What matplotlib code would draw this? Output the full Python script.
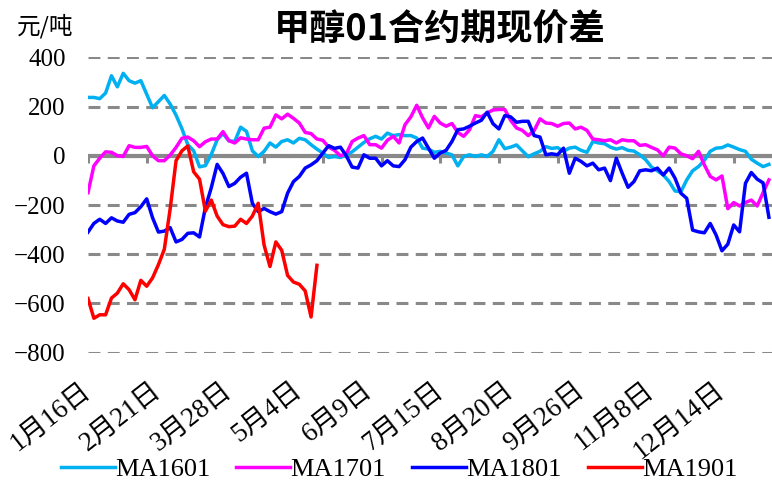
import matplotlib.pyplot as plt

# category labels (every 12th point) and the four spread series
dates = ['1月16日', '2月21日', '3月28日', '5月4日', '6月9日',
         '7月15日', '8月20日', '9月26日', '11月8日', '12月14日']
label_step = 12
tick_step = 10

ma1601 = [237, 237, 232, 255, 325, 280, 335, 305, 295, 305,
          250, 195, 220, 245, 210, 165, 110, 45, 20, -45,
          -40, 5, 65, 90, 61, 58, 116, 99, 20, -3,
          18, 52, 35, 58, 65, 52, 71, 65, 45, 27,
          11, -7, -3, -7, 4, 16, 35, 54, 69, 79,
          68, 92, 82, 86, 82, 82, 72, 31, 27, 14,
          18, 11, 4, -41, -3, 4, -3, 4, -3, 18,
          65, 29, 35, 44, 20, -4, 8, 18, 37, 30,
          33, 18, 31, 35, 22, 14, 58, 52, 49, 35,
          27, 33, 22, 19, 4, -16, -46, -61, -78, -105,
          -143, -146, -98, -61, -44, -19, 18, 31, 33, 44,
          35, 25, 18, -14, -30, -44, -35]

ma1701 = [-150, -41, -10, 16, 14, 0, -3, 41, 34, 34,
          38, 0, -20, -20, 3, 34, 71, 76, 61, 37,
          57, 68, 68, 98, 61, 52, 73, 68, 65, 65,
          112, 116, 166, 150, 169, 152, 133, 95, 90, 68,
          63, 35, 22, 0, 8, 58, 72, 82, 45, 45,
          31, 63, 79, 52, 126, 158, 205, 154, 113, 160,
          133, 120, 131, 95, 79, 106, 163, 158, 174, 186,
          188, 188, 144, 113, 103, 82, 102, 150, 133, 131,
          120, 131, 133, 109, 116, 103, 68, 65, 61, 65,
          52, 65, 61, 61, 42, 45, 34, 24, 0, 35,
          31, 8, 0, -12, 18, -37, -84, -98, -82, -215,
          -190, -204, -190, -180, -204, -150, -98]

ma1801 = [-310, -275, -258, -275, -252, -265, -270, -238, -231, -207,
          -175, -252, -310, -306, -292, -350, -340, -315, -313, -330,
          -210, -130, -35, -72, -125, -112, -87, -71, -193, -227,
          -214, -227, -237, -227, -152, -105, -84, -50, -37, -20,
          11, 41, 30, 35, 0, -46, -50, 4, -10, -10,
          -41, -20, -41, -44, -16, 35, 58, 72, 31, -10,
          11, 22, 58, 106, 109, 120, 133, 144, 177, 130,
          109, 163, 158, 136, 140, 140, 82, 76, 4, 8,
          4, 31, -71, -10, -23, -41, -30, -57, -50, -101,
          -10, -71, -128, -105, -61, -57, -61, -50, -78, -50,
          -91, -152, -173, -302, -309, -313, -275, -322, -386, -359,
          -281, -309, -112, -68, -95, -110, -250]

ma1901 = [-580, -660, -646, -646, -578, -558, -520, -544, -585, -506,
          -530, -496, -442, -380, -215, -20, 20, 40, -65, -95,
          -225, -180, -245, -280, -288, -286, -258, -275, -245, -193,
          -363, -450, -350, -384, -486, -513, -522, -549, -655, -445]

series = [('MA1601', ma1601, '#00B0F0'),
          ('MA1701', ma1701, '#FF00FF'),
          ('MA1801', ma1801, '#0000FF'),
          ('MA1901', ma1901, '#FF0000')]

serif = ['Liberation Serif', 'Noto Sans CJK SC']
grid_grey = '#898989'

fig = plt.figure(figsize=(7.72, 4.83), dpi=100)
ax = fig.add_axes([88 / 772, 1 - 352.7 / 483, 684 / 772, 295.4 / 483])

n = len(ma1601)
ax.set_xlim(0, (772 - 88) / 5.87)
ax.set_ylim(-800, 400)

# dashed horizontal gridlines, solid zero line with small category ticks
ax.set_yticks(range(-800, 401, 200))
ax.grid(axis='y', color=grid_grey, lw=2.2, linestyle=(0, (3.9, 2.4)), zorder=0)
ax.set_axisbelow(True)
ax.axhline(0, color=grid_grey, lw=3, zorder=1)
ax.vlines(range(0, n, tick_step), -30, 0, color=grid_grey, lw=2.2, zorder=1)

handles = []
for name, vals, col in series:
    h, = ax.plot(range(len(vals)), vals, color=col, lw=2.5, label=name,
                 zorder=3, solid_joinstyle='round')
    handles.append(h)

for s in ax.spines.values():
    s.set_visible(False)

ax.set_xticks(range(0, n, label_step)[:len(dates)])
ax.set_xticklabels(dates, rotation=38, ha='right', va='center',
                   rotation_mode='anchor', fontsize=19.5, family=serif)
ax.tick_params(axis='x', length=0, pad=25)
ax.tick_params(axis='y', length=0, pad=16)
for lab in ax.get_yticklabels():
    lab.set_family('Liberation Serif')
    lab.set_fontsize(18)

fig.text(0.57, 0.938, '甲醇01合约期现价差', fontsize=26, fontweight='bold',
         family='Noto Sans CJK SC', ha='center', va='center')
fig.text(17 / 772, 1 - 26 / 483, '元/吨', fontsize=17,
         family=['Noto Sans CJK SC', 'DejaVu Sans'], ha='left', va='center')

fig.legend(handles=handles, loc='center', bbox_to_anchor=(0.517, 0.028),
           ncol=4, frameon=False, prop={'family': 'Liberation Serif', 'size': 19},
           handlelength=2.05, handletextpad=0.0, columnspacing=1.0)

fig.savefig('out.png', dpi=100)
